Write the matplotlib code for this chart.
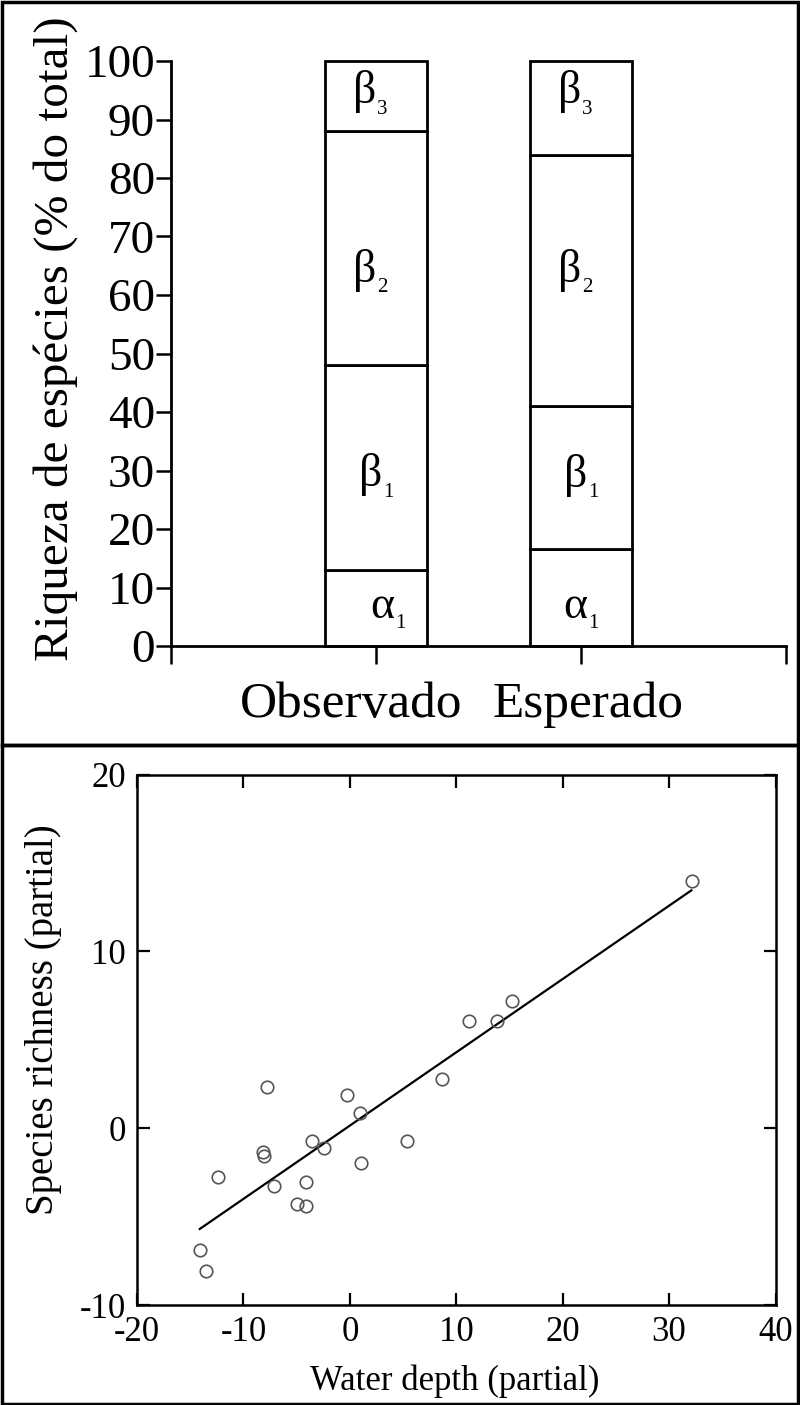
import matplotlib
matplotlib.use("Agg")
import matplotlib.pyplot as plt
from matplotlib.patches import Rectangle
from matplotlib.transforms import blended_transform_factory
import numpy as np

plt.rcParams["font.family"] = ["Liberation Serif", "DejaVu Serif"]
plt.rcParams["axes.unicode_minus"] = False

# top panel: share of species richness per component (% of total)
groups = ["Observado", "Esperado"]
comp_letter = ["α", "β", "β", "β"]
comp_index = ["1", "1", "2", "3"]
observado = [13, 35, 40, 12]
esperado = [16.5, 24.5, 43, 16]
y_ticks_top = list(range(0, 101, 10))

# bottom panel: partial regression points and fitted line
depth = [32.2, 15.2, 11.2, 13.8, 8.65, -7.8, -0.3, 1.0, 5.35, -3.6, -2.4,
         -8.15, -8.05, 1.05, -12.4, -7.1, -4.1, -5.0, -4.15, -14.1, -13.5]
richness = [14.0, 7.2, 6.05, 6.05, 2.8, 2.35, 1.85, 0.85, -0.7, -0.75, -1.1,
            -1.35, -1.6, -1.95, -2.75, -3.25, -3.05, -4.3, -4.4, -6.9, -8.05]
fit_x = [-14.1, 32.1]
fit_y = [-5.7, 13.45]

W, H = 800, 1405
fig = plt.figure(figsize=(W / 100, H / 100), dpi=100)

# ---------- top panel ----------
ax1 = fig.add_axes([171 / W, 1 - 646 / H, 615 / W, 585 / H])
x = np.arange(1, len(groups) + 1)
stack = np.array([observado, esperado]).T
bottoms = np.zeros(len(groups))
for i in range(len(comp_letter)):
    ax1.bar(x, stack[i], 0.5, bottom=bottoms, facecolor="white",
            edgecolor="black", linewidth=2, clip_on=False)
    bottoms += stack[i]

# segment labels: big greek letter + small index (positions only)
label_y = [[4.8, 27.3, 62.3, 92.8], [4.8, 27.2, 62.3, 92.8]]
label_dx = [[0.09, 0.03, 0.0, 0.0], [0.03, 0.03, 0.0, 0.0]]
for g in range(len(groups)):
    for i in range(len(comp_letter)):
        xy = (x[g] + label_dx[g][i], label_y[g][i])
        ax1.annotate(comp_letter[i], xy, ha="right", va="baseline",
                     fontsize=33)
        ax1.annotate(comp_index[i], xy, xytext=(0.5, -7.5),
                     textcoords="offset points", ha="left", va="baseline",
                     fontsize=15)

ax1.set_xlim(0, 3)
ax1.set_ylim(0, 100)
ax1.set_yticks(y_ticks_top)
ax1.set_xticks([0, 1, 2, 3])
ax1.set_xticklabels([])
for s in ["top", "right"]:
    ax1.spines[s].set_visible(False)
for s in ["left", "bottom"]:
    ax1.spines[s].set_linewidth(2)
ax1.tick_params(axis="y", direction="out", length=11, width=1.8, pad=0.5,
                labelsize=34)
ax1.tick_params(axis="x", direction="out", length=13, width=1.8)

trans = blended_transform_factory(ax1.transData, ax1.transAxes)
for xpos, name in zip([0.88, 2.035], groups):
    ax1.text(xpos, -0.101, name, transform=trans, fontsize=37,
             ha="center", va="center")

ax1.set_ylabel("Riqueza de espécies (% do total)", fontsize=35.5, va="center")
ax1.yaxis.set_label_coords(-0.187, 0.526)

# ---------- bottom panel ----------
ax2 = fig.add_axes([137 / W, 1 - 1305 / H, 638.5 / W, 530.5 / H])
ax2.plot(fit_x, fit_y, color="black", linewidth=1.6)
ax2.plot(depth, richness, "o", markerfacecolor="none",
         markeredgecolor="#555555", markersize=9, markeredgewidth=1.2)
ax2.set_xlim(-20, 40)
ax2.set_ylim(-10, 20)
ax2.set_xticks(range(-20, 41, 10))
ax2.set_yticks(range(-10, 21, 10))
for s in ax2.spines.values():
    s.set_linewidth(1.8)
ax2.tick_params(direction="in", top=True, right=True, length=9, width=1.6,
                labelsize=25)
ax2.tick_params(axis="x", pad=8)
ax2.tick_params(axis="y", pad=8)
ax2.set_xlabel("Water depth (partial)", fontsize=25, va="center")
ax2.xaxis.set_label_coords(0.497, -0.143)
ax2.set_ylabel("Species richness (partial)", fontsize=28, va="center")
ax2.yaxis.set_label_coords(-0.146, 0.537)

# panel frames
split = 745 / H
fig.add_artist(Rectangle((0.002, 1 - split), 0.996, split - 0.0015,
                         transform=fig.transFigure, fill=False,
                         edgecolor="black", linewidth=2.5))
fig.add_artist(Rectangle((0.002, 0.001), 0.996, 1 - split - 0.001,
                         transform=fig.transFigure, fill=False,
                         edgecolor="black", linewidth=2.5))

fig.savefig("out.png", dpi=100)
